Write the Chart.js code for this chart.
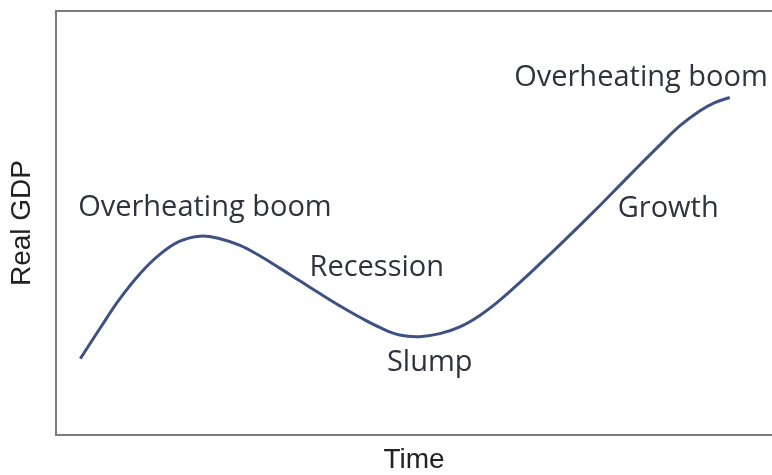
<!DOCTYPE html>
<html>
<head>
<meta charset="utf-8">
<script src="https://cdn.jsdelivr.net/npm/chart.js@4"></script>
<style>
    html, body { margin: 0; padding: 0; background: #fff; }
    #wrap { width: 772px; height: 475px; }
</style>
</head>
<body>
<div id="wrap"><canvas id="cycle-chart"></canvas></div>
<script>
// --- Data (time and real GDP in arbitrary 0-100 units) ---
const timeVals = [3.4, 6.2, 8.9, 11.7, 14.5, 17.3, 20.1, 22.9, 25.7, 28.5, 31.3, 34.1, 36.9, 39.7, 42.5, 45.3, 48.0,
                  50.8, 53.6, 56.4, 59.2, 62.0, 64.8, 67.6, 70.4, 73.2, 76.0, 78.8, 81.6, 84.4, 87.2, 89.9, 92.0, 94.1];
const gdpVals  = [18.0, 25.3, 32.1, 38.0, 42.6, 45.7, 46.9, 46.3, 44.7, 42.2, 39.3, 36.3, 33.3, 30.4, 27.7, 25.3, 23.6,
                  23.2, 23.9, 25.5, 28.2, 31.8, 36.0, 40.4, 44.9, 49.5, 54.2, 59.0, 63.8, 68.5, 73.0, 76.4, 78.4, 79.6];

// phase labels, placed in the same units
const phaseLabels = ['Overheating boom', 'Recession', 'Slump', 'Growth', 'Overheating boom'];
const phaseX = [20.8, 44.8, 52.2, 85.5, 81.7];
const phaseY = [53.7, 39.5, 17.0, 53.4, 84.2];

const lineColor = '#3d5282';
const frameColor = '#7a7a7a';

// --- Plugin: top frame line + phase labels ---
const phasePlugin = {
    id: 'phaseLabels',
    afterDraw(chart) {
        const { ctx, chartArea, scales } = chart;
        ctx.save();
        ctx.strokeStyle = frameColor;
        ctx.lineWidth = 2;
        ctx.beginPath();
        ctx.moveTo(chartArea.left, chartArea.top);
        ctx.lineTo(chartArea.right, chartArea.top);
        ctx.stroke();

        ctx.fillStyle = '#30323d';
        ctx.font = '29px "Open Sans"';
        ctx.textAlign = 'center';
        ctx.textBaseline = 'middle';
        phaseLabels.forEach((txt, i) => {
            ctx.fillText(txt, scales.x.getPixelForValue(phaseX[i]), scales.y.getPixelForValue(phaseY[i]));
        });
        ctx.restore();
    }
};

const ctx = document.getElementById('cycle-chart').getContext('2d');
new Chart(ctx, {
    type: 'line',
    data: {
        datasets: [{
            data: timeVals.map((t, i) => ({ x: t, y: gdpVals[i] })),
            borderColor: lineColor,
            borderWidth: 3,
            pointRadius: 0,
            tension: 0.4,
            fill: false
        }]
    },
    options: {
        responsive: true,
        maintainAspectRatio: false,
        animation: false,
        layout: { padding: { top: 11, right: 0, bottom: 1, left: 0 } },
        plugins: {
            legend: { display: false },
            tooltip: { enabled: false }
        },
        scales: {
            x: {
                type: 'linear',
                min: 0,
                max: 100,
                grid: { display: false },
                ticks: { display: false },
                border: { display: true, color: frameColor, width: 2 },
                title: {
                    display: true,
                    text: 'Time',
                    color: '#222',
                    font: { family: '"Liberation Sans", Arial', size: 28, lineHeight: 1 },
                    padding: { top: 3, bottom: 0 }
                }
            },
            y: {
                min: 0,
                max: 100,
                grid: { display: false },
                ticks: { display: false },
                border: { display: true, color: frameColor, width: 2 },
                title: {
                    display: true,
                    text: 'Real GDP',
                    color: '#222',
                    font: { family: '"Liberation Sans", Arial', size: 28, lineHeight: 1 },
                    padding: { top: 8, bottom: 12 }
                }
            }
        }
    },
    plugins: [phasePlugin]
});
</script>
</body>
</html>
